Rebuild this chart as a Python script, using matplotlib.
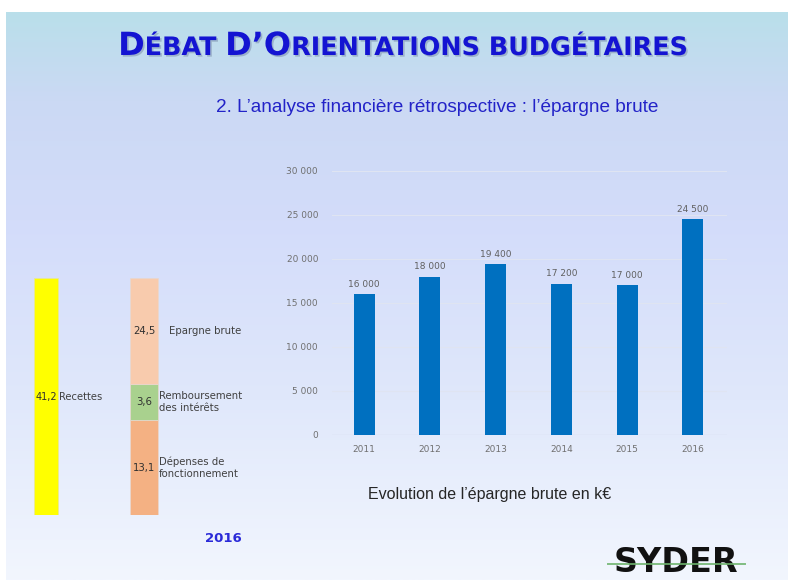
import matplotlib
matplotlib.use("Agg")
import matplotlib.pyplot as plt
import matplotlib.patheffects as pe
import numpy as np

# donnees du graphique en barres (k€)
annees = ["2011", "2012", "2013", "2014", "2015", "2016"]
epargne = [16000, 18000, 19400, 17200, 17000, 24500]
graduations = [0, 5000, 10000, 15000, 20000, 25000, 30000]

# schema 2016 (hauteurs lues sur l'image, pas a l'echelle des valeurs)
recettes_val = "41,2"
recettes_lib = "Recettes"
postes_val = ["13,1", "3,6", "24,5"]
postes_lib = ["Dépenses de\nfonctionnement", "Remboursement\ndes intérêts", "Epargne brute"]
postes_haut = [16.5, 6.3, 18.4]
postes_coul = ["#f4b183", "#a9d18e", "#f8cbad"]

W, H = 788, 580
fig = plt.figure(figsize=(W / 100, H / 100), dpi=100)
fig.patch.set_facecolor("white")


def px_axes(x0, y0, x1, y1):
    # y en pixels depuis le haut
    return fig.add_axes([x0 / W, 1 - y1 / H, (x1 - x0) / W, (y1 - y0) / H])


# fond degrade de la diapositive
bg = px_axes(6, 12, W, H)
yy = np.linspace(12, H, 300)
stops_y = [12, 100, 220, 400, 580]
stops_c = np.array([[185, 223, 234], [203, 217, 244], [211, 220, 250],
                    [224, 232, 251], [242, 246, 254]]) / 255
grad = np.stack([np.interp(yy, stops_y, stops_c[:, k]) for k in range(3)], axis=-1)
bg.imshow(grad[:, None, :], aspect="auto", extent=[0, 1, 0, 1])
bg.set_axis_off()

# titre en petites capitales
renderer = fig.canvas.get_renderer()
morceaux = [("D", 23), ("ÉBAT ", 18.3), ("D’O", 23), ("RIENTATIONS ", 18.3), ("BUDGÉTAIRES", 18.3)]
ombre = [pe.SimplePatchShadow(offset=(1.2, -1.2), shadow_rgbFace="#7080a0", alpha=0.45), pe.Normal()]
textes = []
for s, fs in morceaux:
    t = fig.text(0, 1 - 55 / H, s, fontsize=fs, color="#1414d2", family="DejaVu Sans",
                 fontweight="bold", va="baseline", ha="left", path_effects=ombre)
    textes.append(t)
largeurs = [t.get_window_extent(renderer).width for t in textes]
x = 403 - sum(largeurs) / 2
for t, w in zip(textes, largeurs):
    t.set_x(x / W)
    x += w

fig.text(437 / W, 1 - 107 / H, "2. L’analyse financière rétrospective : l’épargne brute",
         fontsize=13.7, color="#2323c8", ha="center", va="center",
         family="Liberation Sans")

# graphique en barres
ax = px_axes(332, 171, 727, 435)
ax.patch.set_alpha(0)
x_pos = np.arange(len(annees))
barres = ax.bar(x_pos, epargne, width=0.32, color="#0070c0", zorder=3)
ax.set_xlim(-0.49, 5.52)
ax.set_ylim(0, 30000)
ax.set_yticks(graduations)
ax.set_yticklabels([f"{v:,}".replace(",", " ") for v in graduations])
ax.set_xticks(x_pos)
ax.set_xticklabels(annees)
ax.grid(axis="y", color="#dfe4f2", lw=0.8, zorder=0)
for sp in ax.spines.values():
    sp.set_visible(False)
ax.axhline(0, color="#cfd4e0", lw=0.8, zorder=2)
ax.tick_params(length=0, labelsize=6.5, labelcolor="#707070")
ax.tick_params(axis="y", pad=10)
ax.tick_params(axis="x", pad=7)
ax.bar_label(barres, labels=[f"{v:,}".replace(",", " ") for v in epargne],
             padding=4, fontsize=6.5, color="#606060")

fig.text(490 / W, 1 - 495 / H, "Evolution de l’épargne brute en k€", fontsize=11.5,
         color="#262626", ha="center", va="center", family="Liberation Sans")

# schema de gauche
sx = px_axes(20, 278, 280, 515)
sx.set_axis_off()
sx.patch.set_alpha(0)
sx.set_xlim(-0.265, 2.388)
sx.set_ylim(0, sum(postes_haut))
sx.bar(0, sum(postes_haut), width=0.245, color="#ffff00", edgecolor="#e6e6a0", lw=0.5)
sx.text(0, sum(postes_haut) / 2, recettes_val, fontsize=7, color="#303030",
        ha="center", va="center")
sx.text(0.13, sum(postes_haut) / 2, recettes_lib, fontsize=7.2, color="#404040",
        ha="left", va="center")
bas = 0
for val, lib, h, c in zip(postes_val, postes_lib, postes_haut, postes_coul):
    sx.bar(1, h, width=0.286, bottom=bas, color=c, edgecolor="#e8d8d0", lw=0.5)
    sx.text(1, bas + h / 2, val, fontsize=7.3, color="#303030", ha="center", va="center")
    dx = 0.255 if "\n" not in lib else 0.155
    sx.text(1 + dx, bas + h / 2, lib, fontsize=7.3, color="#404040", ha="left",
            va="center", linespacing=1.3)
    bas += h

fig.text(223 / W, 1 - 539 / H, "2016", fontsize=9.5, fontweight="bold", color="#2a2ad8",
         ha="center", va="center")

# logo
fig.text(676 / W, 0.5 / H, "SYDER", fontsize=24, fontweight="heavy", color="#111111",
         ha="center", va="bottom", family="DejaVu Sans")
fig.add_artist(plt.Line2D([608 / W, 745 / W], [1 - 564 / H, 1 - 564 / H],
                          color="#6db36d", lw=1.4, alpha=0.85, zorder=5))

fig.savefig("out.png", dpi=100)
